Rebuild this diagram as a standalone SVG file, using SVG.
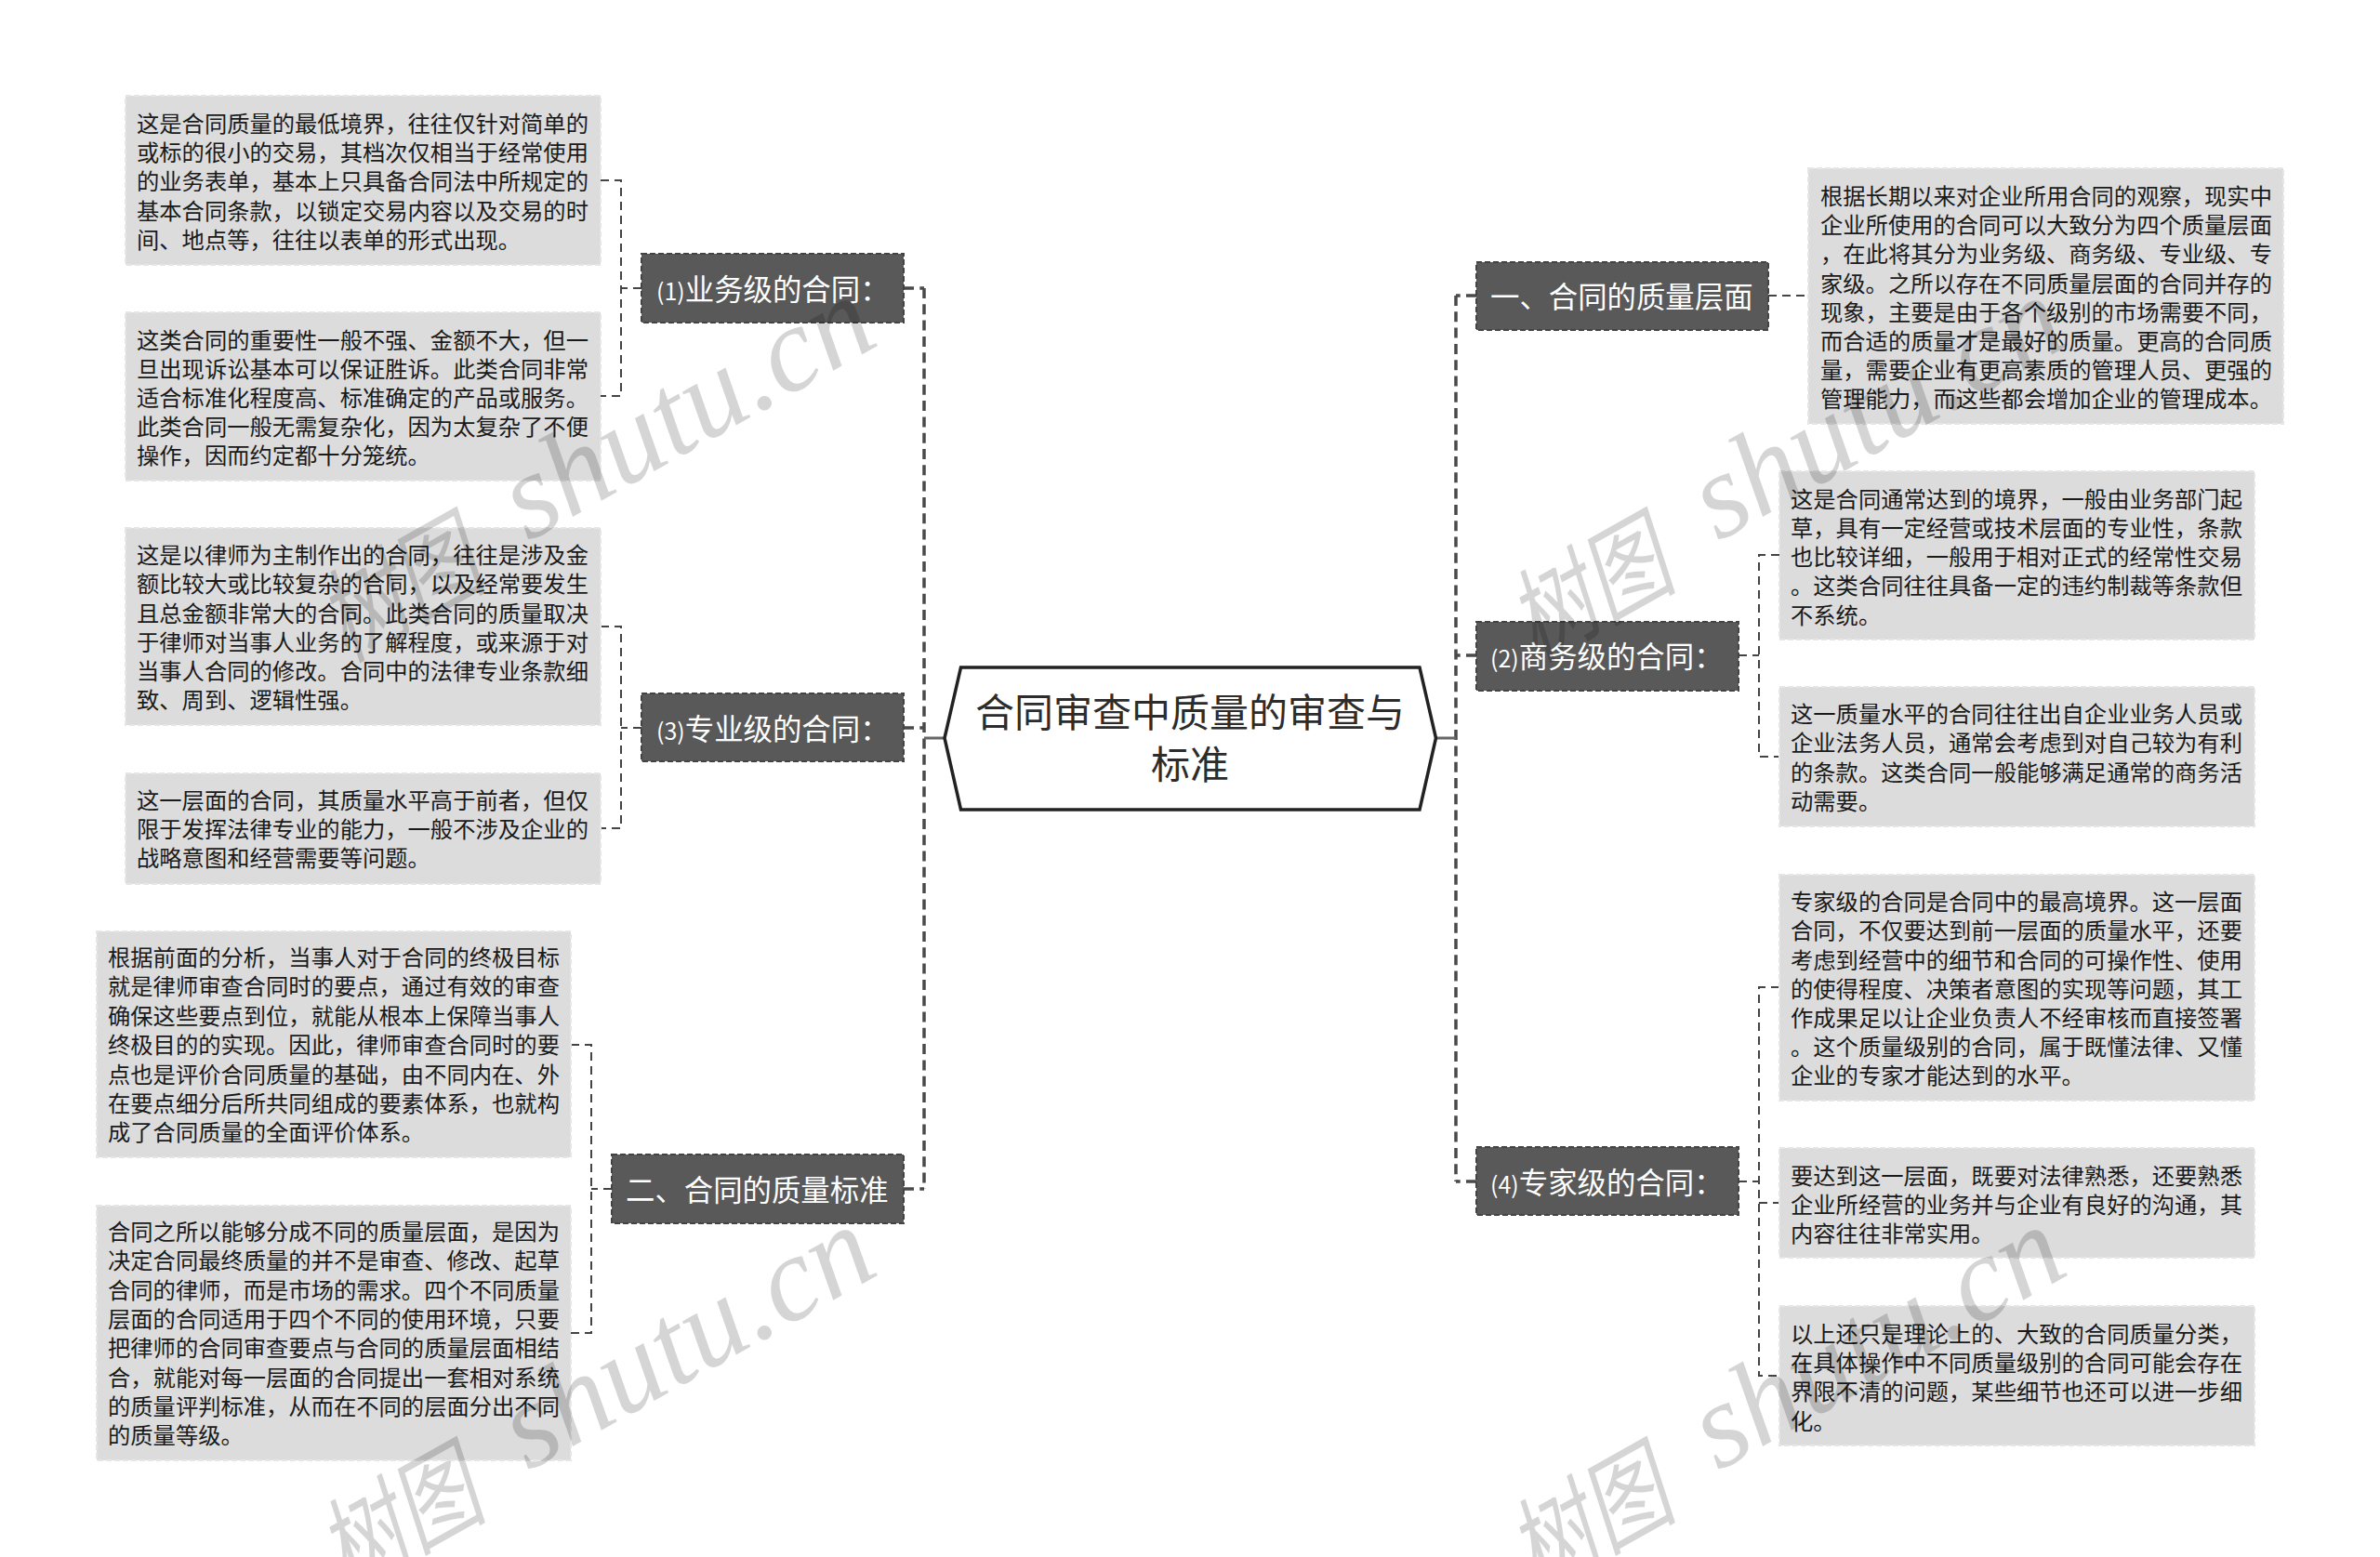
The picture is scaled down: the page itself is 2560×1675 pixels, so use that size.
<svg xmlns="http://www.w3.org/2000/svg" width="2560" height="1675" viewBox="0 0 2560 1675">
<style>
text{font-family:"Noto Sans CJK SC","Liberation Sans",sans-serif}
.leaf rect{fill:#dcdcdc;stroke:#e6e6e6;stroke-width:2;stroke-dasharray:6 3}
.leaf text{font-size:24.3px;fill:#1a1a1a;transform:translateY(-1.5px)}
.node rect{fill:#595959;stroke:#444;stroke-width:2;stroke-dasharray:6 3}
.node text{font-size:31.4px;fill:#fff;transform:translateY(1.5px)}
.num{font-size:25px}
.c1{fill:none;stroke:#4a4a4a;stroke-width:3.5;stroke-dasharray:11 6.3}
.c2{fill:none;stroke:#444;stroke-width:2;stroke-dasharray:9 6}
.c3{fill:none;stroke:#666;stroke-width:3}
.wm{font-style:italic;fill:#000;opacity:.16}
.wl{font-family:"Liberation Serif",serif;font-size:130px}
.wc{font-family:"Noto Sans CJK SC",serif;font-size:110px}
</style>
<rect width="2560" height="1675" fill="#fff"/>
<g id="connectors">
<path class="c1" d="M994 310V1279"/>
<path class="c1" d="M1566 318V1271"/>
<path class="c3" d="M1016 794H994M1544 794H1566"/>
<path class="c1" d="M972 310H994M972 783H994M972 1279H994"/>
<path class="c1" d="M1588 318H1566M1588 705H1566M1588 1271H1566"/>
<path class="c2" d="M690 310H668M646 194H668V426H646"/>
<path class="c2" d="M690 783H668M646 674H668V891H646"/>
<path class="c2" d="M658 1279H636M614 1124H636V1434H614"/>
<path class="c2" d="M1902 318H1945"/>
<path class="c2" d="M1870 705H1892M1914 597H1892V814H1914"/>
<path class="c2" d="M1870 1271H1892M1914 1062H1892V1480H1914M1892 1294H1914"/>
</g>
<g id="root">
<polygon points="1016,794 1033.5,718 1527,718 1544.5,794 1527,871 1033.5,871" fill="#fff" stroke="#222" stroke-width="3.5"/>
<text x="1280" y="782" font-size="42" fill="#2c2c2c" text-anchor="middle">合同审查中质量的审查与</text>
<text x="1280" y="838" font-size="42" fill="#2c2c2c" text-anchor="middle">标准</text>
</g>
<g id="n-yewu" class="node"><rect x="690" y="273" width="282" height="74"/><text x="706" y="321"><tspan class="num">(1)</tspan>业务级的合同：</text></g>
<g id="n-zhuanye" class="node"><rect x="690" y="746" width="282" height="73"/><text x="706" y="794"><tspan class="num">(3)</tspan>专业级的合同：</text></g>
<g id="n-biaozhun" class="node"><rect x="658" y="1242" width="314" height="74"/><text x="673" y="1290">二、合同的质量标准</text></g>
<g id="n-cengmian" class="node"><rect x="1588" y="282" width="314" height="73"/><text x="1603" y="329">一、合同的质量层面</text></g>
<g id="n-shangwu" class="node"><rect x="1588" y="669" width="282" height="74"/><text x="1603" y="716"><tspan class="num">(2)</tspan>商务级的合同：</text></g>
<g id="n-zhuanjia" class="node"><rect x="1588" y="1234" width="282" height="73"/><text x="1603" y="1282"><tspan class="num">(4)</tspan>专家级的合同：</text></g>
<g id="l1" class="leaf"><rect x="135" y="103" width="511" height="182"/>
<text x="147" y="143">这是合同质量的最低境界，往往仅针对简单的</text>
<text x="147" y="174">或标的很小的交易，其档次仅相当于经常使用</text>
<text x="147" y="205">的业务表单，基本上只具备合同法中所规定的</text>
<text x="147" y="237">基本合同条款，以锁定交易内容以及交易的时</text>
<text x="147" y="268">间、地点等，往往以表单的形式出现。</text></g>
<g id="l2" class="leaf"><rect x="135" y="336" width="511" height="181"/>
<text x="147" y="376">这类合同的重要性一般不强、金额不大，但一</text>
<text x="147" y="407">旦出现诉讼基本可以保证胜诉。此类合同非常</text>
<text x="147" y="438">适合标准化程度高、标准确定的产品或服务。</text>
<text x="147" y="469">此类合同一般无需复杂化，因为太复杂了不便</text>
<text x="147" y="500">操作，因而约定都十分笼统。</text></g>
<g id="l3" class="leaf"><rect x="135" y="568" width="511" height="212"/>
<text x="147" y="607">这是以律师为主制作出的合同，往往是涉及金</text>
<text x="147" y="638">额比较大或比较复杂的合同，以及经常要发生</text>
<text x="147" y="670">且总金额非常大的合同。此类合同的质量取决</text>
<text x="147" y="701">于律师对当事人业务的了解程度，或来源于对</text>
<text x="147" y="732">当事人合同的修改。合同中的法律专业条款细</text>
<text x="147" y="763">致、周到、逻辑性强。</text></g>
<g id="l4" class="leaf"><rect x="135" y="832" width="511" height="119"/>
<text x="147" y="871">这一层面的合同，其质量水平高于前者，但仅</text>
<text x="147" y="902">限于发挥法律专业的能力，一般不涉及企业的</text>
<text x="147" y="933">战略意图和经营需要等问题。</text></g>
<g id="l5" class="leaf"><rect x="104" y="1002" width="510" height="243"/>
<text x="116" y="1040">根据前面的分析，当事人对于合同的终极目标</text>
<text x="116" y="1071">就是律师审查合同时的要点，通过有效的审查</text>
<text x="116" y="1103">确保这些要点到位，就能从根本上保障当事人</text>
<text x="116" y="1134">终极目的的实现。因此，律师审查合同时的要</text>
<text x="116" y="1166">点也是评价合同质量的基础，由不同内在、外</text>
<text x="116" y="1197">在要点细分后所共同组成的要素体系，也就构</text>
<text x="116" y="1228">成了合同质量的全面评价体系。</text></g>
<g id="l6" class="leaf"><rect x="104" y="1297" width="510" height="274"/>
<text x="116" y="1335">合同之所以能够分成不同的质量层面，是因为</text>
<text x="116" y="1366">决定合同最终质量的并不是审查、修改、起草</text>
<text x="116" y="1398">合同的律师，而是市场的需求。四个不同质量</text>
<text x="116" y="1429">层面的合同适用于四个不同的使用环境，只要</text>
<text x="116" y="1460">把律师的合同审查要点与合同的质量层面相结</text>
<text x="116" y="1492">合，就能对每一层面的合同提出一套相对系统</text>
<text x="116" y="1523">的质量评判标准，从而在不同的层面分出不同</text>
<text x="116" y="1554">的质量等级。</text></g>
<g id="r1" class="leaf"><rect x="1945" y="181" width="511" height="275"/>
<text x="1958" y="221">根据长期以来对企业所用合同的观察，现实中</text>
<text x="1958" y="252">企业所使用的合同可以大致分为四个质量层面</text>
<text x="1958" y="283">，在此将其分为业务级、商务级、专业级、专</text>
<text x="1958" y="315">家级。之所以存在不同质量层面的合同并存的</text>
<text x="1958" y="346">现象，主要是由于各个级别的市场需要不同，</text>
<text x="1958" y="377">而合适的质量才是最好的质量。更高的合同质</text>
<text x="1958" y="408">量，需要企业有更高素质的管理人员、更强的</text>
<text x="1958" y="439">管理能力，而这些都会增加企业的管理成本。</text></g>
<g id="r2" class="leaf"><rect x="1914" y="507" width="511" height="181"/>
<text x="1926" y="547">这是合同通常达到的境界，一般由业务部门起</text>
<text x="1926" y="578">草，具有一定经营或技术层面的专业性，条款</text>
<text x="1926" y="609">也比较详细，一般用于相对正式的经常性交易</text>
<text x="1926" y="640">。这类合同往往具备一定的违约制裁等条款但</text>
<text x="1926" y="672">不系统。</text></g>
<g id="r3" class="leaf"><rect x="1914" y="739" width="511" height="150"/>
<text x="1926" y="778">这一质量水平的合同往往出自企业业务人员或</text>
<text x="1926" y="809">企业法务人员，通常会考虑到对自己较为有利</text>
<text x="1926" y="841">的条款。这类合同一般能够满足通常的商务活</text>
<text x="1926" y="872">动需要。</text></g>
<g id="r4" class="leaf"><rect x="1914" y="941" width="511" height="243"/>
<text x="1926" y="980">专家级的合同是合同中的最高境界。这一层面</text>
<text x="1926" y="1011">合同，不仅要达到前一层面的质量水平，还要</text>
<text x="1926" y="1043">考虑到经营中的细节和合同的可操作性、使用</text>
<text x="1926" y="1074">的使得程度、决策者意图的实现等问题，其工</text>
<text x="1926" y="1105">作成果足以让企业负责人不经审核而直接签署</text>
<text x="1926" y="1136">。这个质量级别的合同，属于既懂法律、又懂</text>
<text x="1926" y="1167">企业的专家才能达到的水平。</text></g>
<g id="r5" class="leaf"><rect x="1914" y="1235" width="511" height="118"/>
<text x="1926" y="1275">要达到这一层面，既要对法律熟悉，还要熟悉</text>
<text x="1926" y="1306">企业所经营的业务并与企业有良好的沟通，其</text>
<text x="1926" y="1337">内容往往非常实用。</text></g>
<g id="r6" class="leaf"><rect x="1914" y="1405" width="511" height="150"/>
<text x="1926" y="1445">以上还只是理论上的、大致的合同质量分类，</text>
<text x="1926" y="1476">在具体操作中不同质量级别的合同可能会存在</text>
<text x="1926" y="1507">界限不清的问题，某些细节也还可以进一步细</text>
<text x="1926" y="1539">化。</text></g>
<g id="watermark">
<text class="wm wc" transform="translate(372 712) rotate(-29.3) scale(.8 1)">树图</text>
<text class="wm wl" transform="translate(568 583) rotate(-29.3)">shutu.cn</text>
<text class="wm wc" transform="translate(1652 712) rotate(-29.3) scale(.8 1)">树图</text>
<text class="wm wl" transform="translate(1848 583) rotate(-29.3)">shutu.cn</text>
<text class="wm wc" transform="translate(372 1712) rotate(-29.3) scale(.8 1)">树图</text>
<text class="wm wl" transform="translate(568 1583) rotate(-29.3)">shutu.cn</text>
<text class="wm wc" transform="translate(1652 1712) rotate(-29.3) scale(.8 1)">树图</text>
<text class="wm wl" transform="translate(1848 1583) rotate(-29.3)">shutu.cn</text>
</g>
</svg>
